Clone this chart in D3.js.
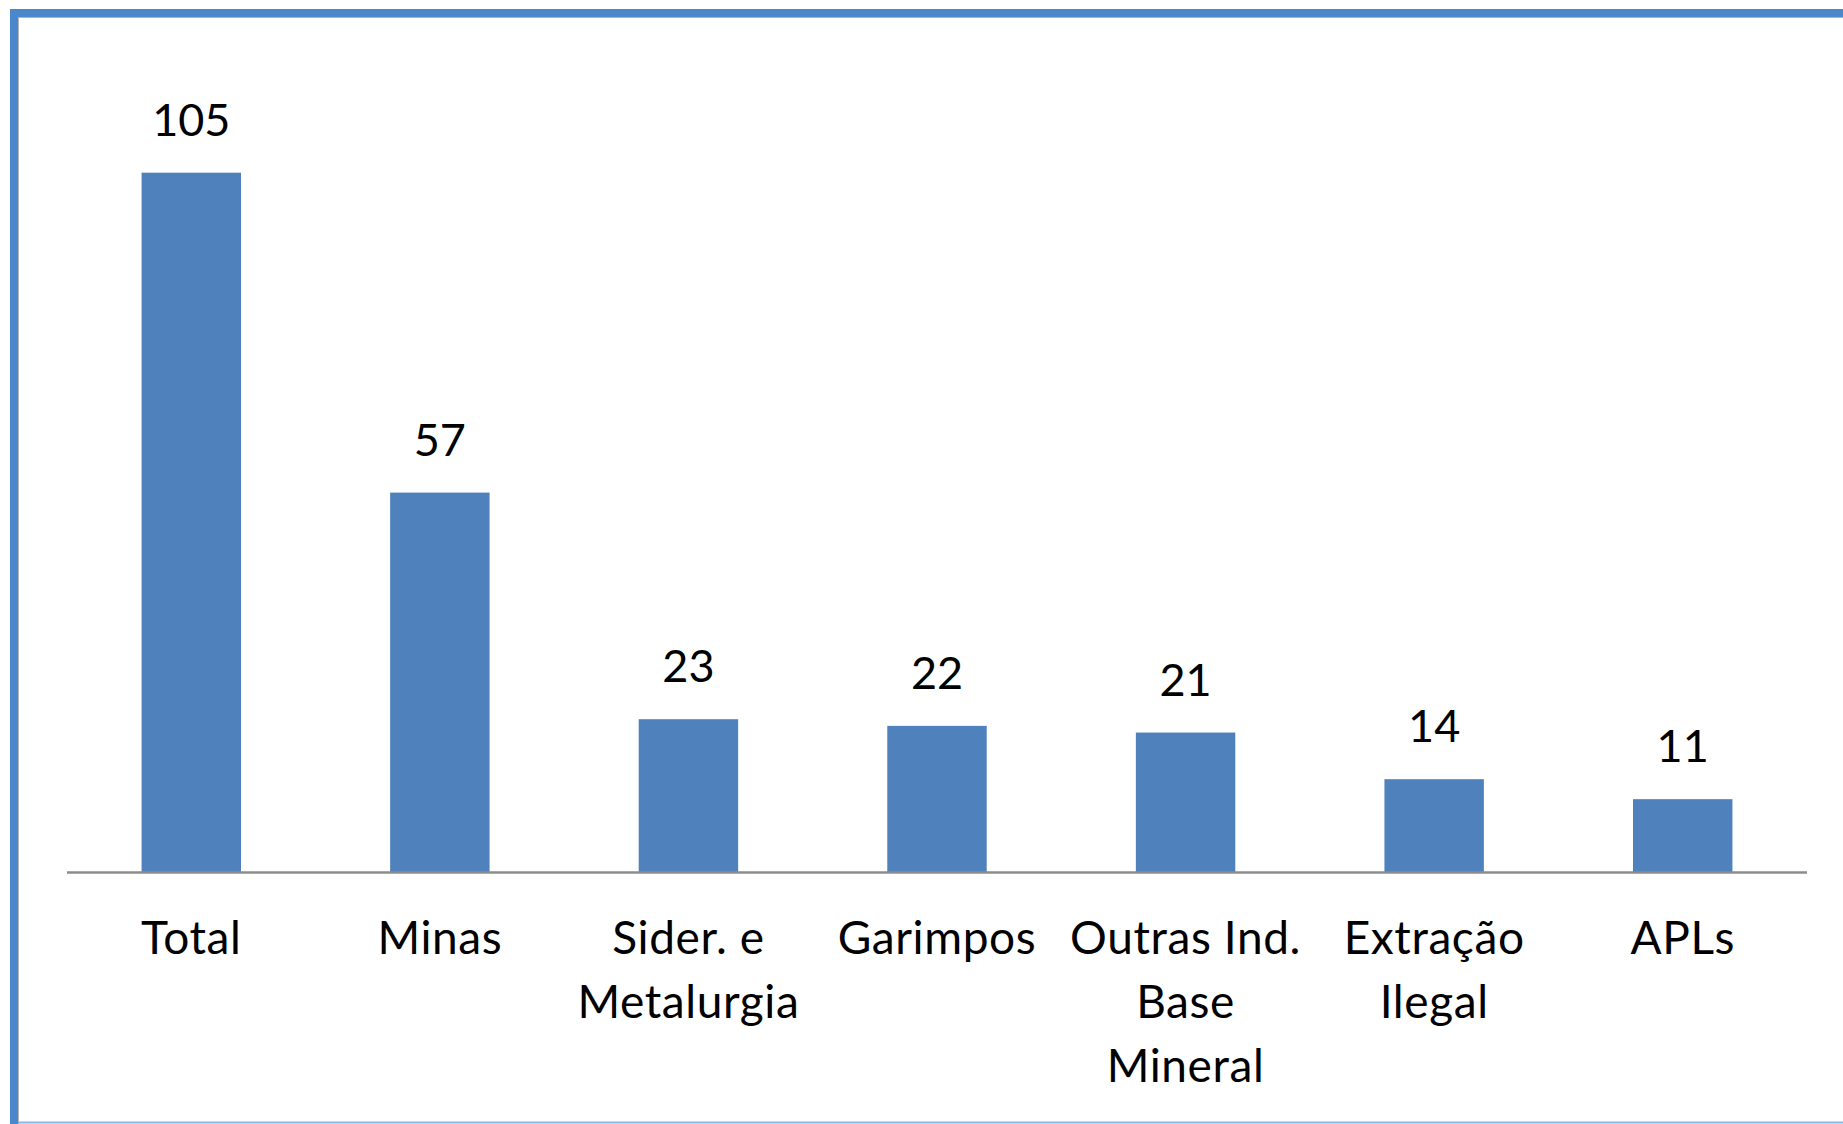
<!DOCTYPE html>
<html>
<head>
<meta charset="utf-8">
<script src="https://cdn.jsdelivr.net/npm/d3@7"></script>
<style>
  html, body { margin: 0; padding: 0; background: #fff; }
  svg { display: block; }
  text { font-family: Lato, "Open Sans", sans-serif; fill: #000; }
</style>
</head>
<body>
<svg id="chart" width="1843" height="1124"></svg>
<script>
const categories = ["Total", "Minas", "Sider. e\nMetalurgia", "Garimpos", "Outras Ind.\nBase\nMineral", "Extração\nIlegal", "APLs"];
const values = [105, 57, 23, 22, 21, 14, 11];

const W = 1843, H = 1124;
const svg = d3.select("#chart");

// frame
svg.append("rect").attr("x", 0).attr("y", 0).attr("width", W).attr("height", H).attr("fill", "#fff");
svg.append("rect").attr("x", 10).attr("y", 9).attr("width", W - 10).attr("height", 8).attr("fill", "#4a87cb");
svg.append("rect").attr("x", 10).attr("y", 9).attr("width", 8).attr("height", H - 9).attr("fill", "#4a87cb");
svg.append("line").attr("x1", 18).attr("x2", W).attr("y1", 17.5).attr("y2", 17.5).attr("stroke", "#b4b4b4").attr("stroke-width", 1);
svg.append("line").attr("x1", 18.5).attr("x2", 18.5).attr("y1", 17).attr("y2", H).attr("stroke", "#b4b4b4").attr("stroke-width", 1);
svg.append("line").attr("x1", 18).attr("x2", W).attr("y1", 1122.5).attr("y2", 1122.5).attr("stroke", "#8db3e2").attr("stroke-width", 2);

const x = d3.scaleBand().domain(categories).range([67, 1807]).paddingInner(0.6).paddingOuter(0.3);
const y = d3.scaleLinear().domain([0, 120]).range([872.5, 72.7]);

const data = categories.map((c, i) => ({ c, v: values[i] }));

svg.append("g").selectAll("rect").data(data).join("rect")
  .attr("x", d => x(d.c))
  .attr("width", x.bandwidth())
  .attr("y", d => y(d.v))
  .attr("height", d => y(0) - y(d.v))
  .attr("fill", "#4f81bd");

// value labels
svg.append("g").selectAll("text").data(data).join("text")
  .attr("x", d => x(d.c) + x.bandwidth() / 2)
  .attr("y", d => y(d.v) - 37)
  .attr("text-anchor", "middle")
  .attr("font-size", 45)
  .text(d => d.v);

// x axis
const xAxis = svg.append("g").attr("transform", `translate(0,${y(0)})`)
  .call(d3.axisBottom(x).tickSize(0).tickFormat(""));
xAxis.select(".domain").attr("stroke", "#8c8c8c").attr("stroke-width", 2.5).attr("d", "M67,0H1807");

// category labels
const lab = svg.append("g").selectAll("text").data(data).join("text")
  .attr("x", d => x(d.c) + x.bandwidth() / 2)
  .attr("y", y(0) + 81)
  .attr("text-anchor", "middle")
  .attr("font-size", 46)
  .attr("letter-spacing", 0.6);
lab.each(function(d) {
  const t = d3.select(this);
  d.c.split("\n").forEach((line, i) => {
    t.append("tspan").attr("x", x(d.c) + x.bandwidth() / 2).attr("dy", i === 0 ? 0 : 64).text(line);
  });
});
</script>
</body>
</html>
